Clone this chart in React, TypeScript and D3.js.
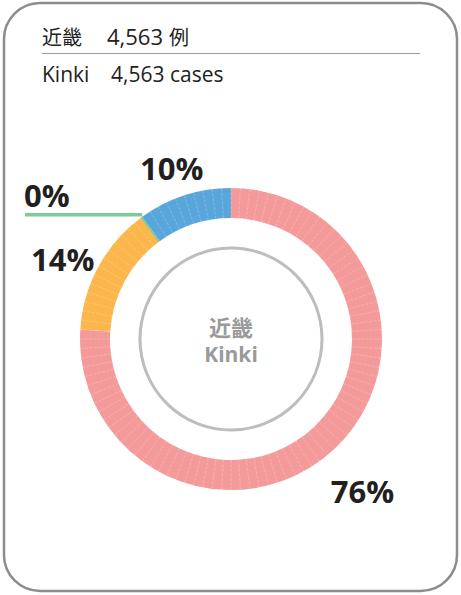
import { useEffect } from 'react'
import * as d3 from 'd3'

const regionJa = '近畿'
const regionEn = 'Kinki'
const totalCases = 4563
const categories = ['A', 'B', 'C', 'D']
const percents = [76, 14, 0, 10]
const colors = ['#f49a9a', '#fbb74b', '#7ccb98', '#58a6dc']
const segmentCount = 100

const W = 461
const H = 595
const cx = 231
const cy = 339
const outerR = 151
const innerR = 121
const labelR = 192
const minSliver = 0.012

export default function App() {
  useEffect(() => {
    document.body.style.margin = '0'
  }, [])

  const fmt = d3.format(',')
  const pie = d3.pie<number>().value(d => d).sort(null)
  const arcs = pie(percents)
  const arc = d3.arc<any>().innerRadius(innerR).outerRadius(outerR)
  const labelArc = d3.arc<any>().innerRadius(labelR).outerRadius(labelR)

  const segAngle = (2 * Math.PI) / segmentCount
  const dividers = d3.range(segmentCount).map(i => i * segAngle)

  const sansJa = '"Noto Sans CJK JP", "Noto Sans", sans-serif'
  const sans = '"Open Sans", "Noto Sans", sans-serif'

  return (
    <svg width={W} height={H} style={{ display: 'block' }}>
      <rect x={4} y={3} width={453} height={588} rx={36} fill="#fff" stroke="#8c8c8c" strokeWidth={2.5} />
      <text x={42} y={45} fontSize={20} fill="#222" fontFamily={sansJa}>
        {regionJa}
        <tspan x={107} fontFamily={sans} fontSize={22}>{fmt(totalCases)}</tspan>
        <tspan dx={6}>例</tspan>
      </text>
      <line x1={42} x2={420} y1={53.5} y2={53.5} stroke="#9a9a9a" strokeWidth={1} />
      <text x={42} y={82} fontSize={21} fill="#222" fontFamily={sans}>
        {regionEn}
        <tspan x={111}>{fmt(totalCases)} cases</tspan>
      </text>

      <g transform={`translate(${cx},${cy})`}>
        {arcs.map((a, i) => {
          if (a.data === 0) {
            const mid = a.startAngle
            return (
              <path key={categories[i]}
                d={arc({ startAngle: mid - minSliver, endAngle: mid + minSliver }) || ''}
                fill={colors[i]} />
            )
          }
          return <path key={categories[i]} d={arc(a) || ''} fill={colors[i]} />
        })}
        {dividers.map((t, i) => (
          <line key={i}
            x1={innerR * Math.sin(t)} y1={-innerR * Math.cos(t)}
            x2={outerR * Math.sin(t)} y2={-outerR * Math.cos(t)}
            stroke="#fff" strokeOpacity={0.32} strokeWidth={0.7} strokeDasharray="3 1.5" />
        ))}
        {arcs.map((a, i) => {
          if (a.data === 0) {
            const t = a.startAngle
            const px = outerR * Math.sin(t)
            const py = -outerR * Math.cos(t)
            return (
              <g key={'z' + categories[i]}>
                <line x1={px} y1={py - 2} x2={25 - cx} y2={py - 2} stroke={colors[i]} strokeWidth={3.5} />
                <text x={24 - cx} y={py - 10} fontSize={31} fontWeight="bold" fill="#231f20" fontFamily={sans}>
                  {a.data}%
                </text>
              </g>
            )
          }
          const [lx, ly] = labelArc.centroid(a)
          return (
            <text key={'l' + categories[i]} x={lx} y={ly + 12} fontSize={31} fontWeight="bold" fill="#231f20"
              textAnchor="middle" dominantBaseline="central" fontFamily={sans}>
              {a.data}%
            </text>
          )
        })}
        <circle r={91} fill="none" stroke="#bdbdbd" strokeWidth={3} />
        <text y={-13} textAnchor="middle" dominantBaseline="central" fontSize={22} fontWeight="bold" fill="#9a9a9a" fontFamily={sansJa}>
          {regionJa}
        </text>
        <text y={15} textAnchor="middle" dominantBaseline="central" fontSize={21} fontWeight="bold" fill="#9a9a9a" fontFamily={sans}>
          {regionEn}
        </text>
      </g>
    </svg>
  )
}
